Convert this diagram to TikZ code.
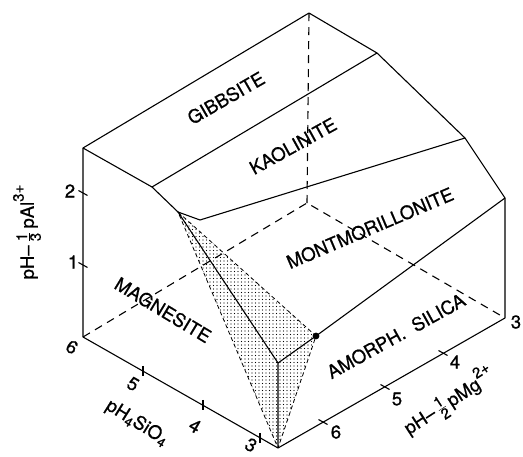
\documentclass[tikz,border=0pt]{standalone}
\usepackage{fontspec}
\setmainfont{TeX Gyre Heros}
\newfontfamily\lett{TeX Gyre Heros}[FakeBold=0.8]
\usetikzlibrary{patterns.meta}
\begin{document}
\begin{tikzpicture}[x=1pt,y=-1pt,line width=1.1pt,line join=round,
  hid/.style={dash pattern=on 8pt off 6pt},
  rim/.style={dash pattern=on 4pt off 3pt,line width=0.8pt},
  fld/.style={font=\lett\fontsize{18.5}{20}\selectfont,inner sep=1pt},
  num/.style={font=\lett\fontsize{18.5}{20}\selectfont,inner sep=1pt},
  sml/.style={font=\lett\fontsize{15}{15}\selectfont,inner sep=0pt}]
\useasboundingbox (0,0) rectangle (523,457);

\coordinate (O) at (278,448);
\coordinate (L) at (83,337);
\coordinate (R) at (505,318);
\coordinate (B) at (307,203);
\coordinate (LT) at (83,148);
\coordinate (BT) at (309,13);
\coordinate (P1) at (377,53);
\coordinate (P2) at (465,138);
\coordinate (RT) at (505,198);
\coordinate (Q1) at (152,187);
\coordinate (A) at (178,212);
\coordinate (K) at (200,220);
\coordinate (F) at (278,363);
\coordinate (D) at (316,336);

\fill[pattern={Dots[distance=3.5pt,radius=0.6pt]}] (A) -- (D) -- (O) -- cycle;
\draw[rim] (A) -- (D) -- (O) -- cycle;

\draw (L) -- (O) -- (R) -- (RT) -- (P2) -- (P1) -- (BT) -- (LT) -- cycle;
\draw (LT) -- (Q1) -- (A) -- (F) -- (O);
\draw (Q1) -- (P1);
\draw (A) -- (K) -- (P2);
\draw (F) -- (D) -- (RT);
\draw[hid] (L) -- (B) -- (R);
\draw[hid] (B) -- (BT);
\node[circle,fill,inner sep=2.4pt] (dot) at (D) {};

\foreach \a/\b in {143/371,203/405,260/438}
  \draw (\a,\b-5) -- (\a,\b+5);
\foreach \a/\b in {83/193,83/265,323/422,385/387,443/353}
  \draw (\a-4.5,\b-2.5) -- (\a+4.5,\b+2.5);

\node[num] at (70,191) {2};
\node[num] at (73,262) {1};
\node[num,rotate=-30] at (72,347) {6};
\node[num,rotate=-30] at (133,384) {5};
\node[num,rotate=-30] at (195,426) {4};
\node[num,rotate=-30] at (251,445) {3};
\node[num] at (336,432) {6};
\node[num] at (397,399) {5};
\node[num] at (455,362) {4};
\node[num] at (516,322) {3};

\node[fld,rotate=30] at (226,98) {GIBBSITE};
\node[fld,rotate=29] at (293,146) {KAOLINITE};
\node[fld,rotate=23] at (370,228) {MONTMORILLONITE};
\node[fld,rotate=-31] at (163,310) {MAGNESITE};
\node[fld,rotate=29] at (396,336) {AMORPH.\ \ SILICA};
\node[fld,rotate=-32] at (137,423) {pH\textsubscript{4}SiO\textsubscript{4}};
\node[fld,rotate=33] at (449,401) {pH–\,$\frac{\mbox{\lett\fontsize{15}{15}\selectfont 1}}{\mbox{\lett\fontsize{15}{15}\selectfont 2}}$\,pMg\raisebox{0.55em}{\lett\fontsize{15}{15}\selectfont 2+}};
\node[fld,rotate=90] at (27,232) {pH–\,$\frac{\mbox{\lett\fontsize{15}{15}\selectfont 1}}{\mbox{\lett\fontsize{15}{15}\selectfont 3}}$\,pAl\raisebox{0.55em}{\lett\fontsize{15}{15}\selectfont 3+}};
\end{tikzpicture}
\end{document}
